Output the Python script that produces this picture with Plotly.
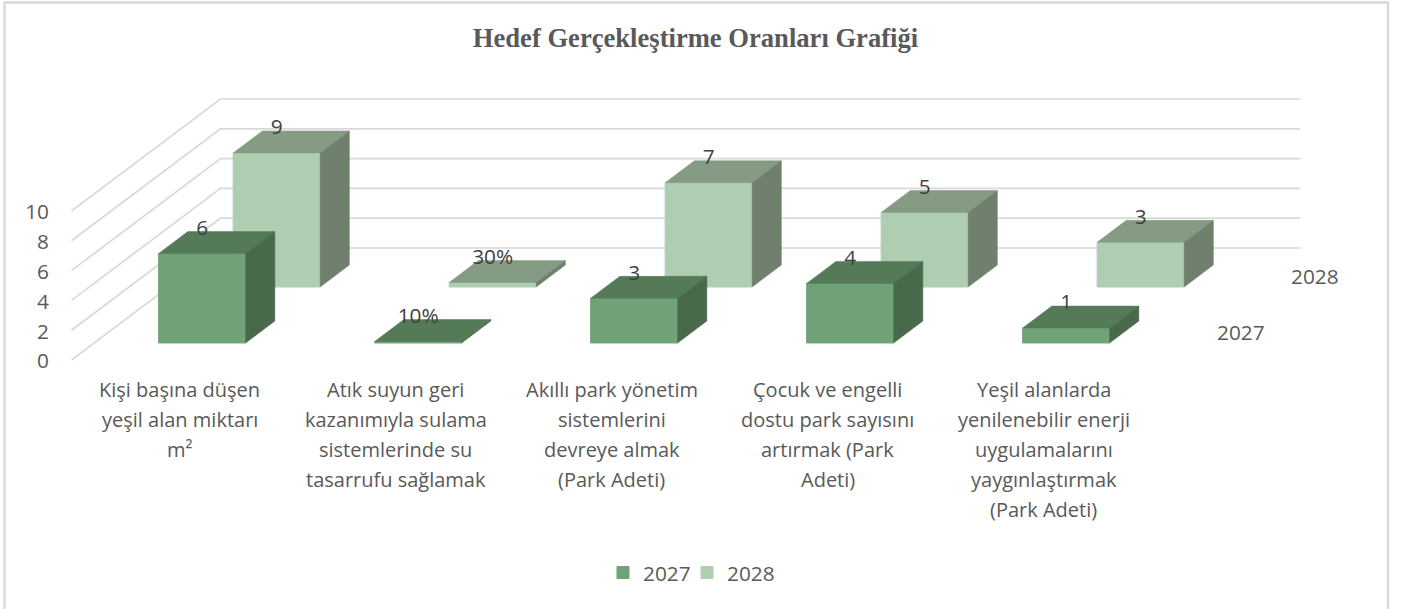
import plotly.graph_objects as go

# ---- data ----
series_names = ["2027", "2028"]
values_2027 = [6, 0.1, 3, 4, 1]
values_2028 = [9, 0.3, 7, 5, 3]
labels_2027 = ["6", "10%", "3", "4", "1"]
labels_2028 = ["9", "30%", "7", "5", "3"]
categories = [
    ["Kişi başına düşen", "yeşil alan miktarı", "m²"],
    ["Atık suyun geri", "kazanımıyla sulama", "sistemlerinde su", "tasarrufu sağlamak"],
    ["Akıllı park yönetim", "sistemlerini", "devreye almak", "(Park Adeti)"],
    ["Çocuk ve engelli", "dostu park sayısını", "artırmak (Park", "Adeti)"],
    ["Yeşil alanlarda", "yenilenebilir enerji", "uygulamalarını", "yaygınlaştırmak", "(Park Adeti)"],
]
y_ticks = [0, 2, 4, 6, 8, 10]
title_text = "Hedef Gerçekleştirme Oranları Grafiği"

# ---- layout geometry ----
W, H = 1405, 609
CAT_PX, VAL_PX = 216.0, 14.9        # pixels per category, per value unit
X0_PX, Y0_PX = 179.5, 360.0         # pixel of category 0 / value 0 on the front plane
LEFT_MARGIN = 50
DX = 149 / CAT_PX                   # oblique depth shift, in axis units
DY = 112 / VAL_PX
BAR_W = 87 / CAT_PX
BAR_D = 0.196
ROW_D = {"2027": 0.25, "2028": 0.75}
TEXT_FONT = "Open Sans"
FS_TEXT = 20
FS_NUM = 20.8
GREY = "#595959"
STYLE = {
    "2027": dict(front="#70a278", top="#557a58", side="#486a4a"),
    "2028": dict(front="#afcdb1", top="#859b84", side="#6f806d"),
}


def faces(i, v, d0):
    """Top and side polygons of one box, via the oblique projection."""
    x = i + DX * d0
    y = DY * d0
    ox, oy = DX * BAR_D, DY * BAR_D
    l, r = x - BAR_W / 2, x + BAR_W / 2
    top = ([l, r, r + ox, l + ox, l], [y + v, y + v, y + v + oy, y + v + oy, y + v])
    side = ([r, r + ox, r + ox, r, r], [y, y + oy, y + v + oy, y + v, y])
    return top, side


fig = go.Figure()

# gridlines: side wall + back wall
for t in y_ticks:
    fig.add_trace(go.Scatter(
        x=[-0.5, -0.5 + DX, len(categories) - 0.5 + DX],
        y=[t, t + DY, t + DY],
        mode="lines", line=dict(color="#d9d9d9", width=1.7),
        hoverinfo="skip", showlegend=False, zorder=0,
    ))

# boxes: back row first
values = {"2027": values_2027, "2028": values_2028}
text = {"2027": labels_2027, "2028": labels_2028}
z_base = {"2028": 1, "2027": 4}
for name in series_names:
    st = STYLE[name]
    d0 = ROW_D[name] - BAR_D / 2
    vals = values[name]
    xs = [i + DX * d0 for i in range(len(vals))]
    fig.add_trace(go.Bar(
        x=xs, y=vals, base=[DY * d0] * len(vals), width=BAR_W, name=name,
        marker=dict(color=st["front"], line=dict(color=st["front"], width=1)),
        hoverinfo="skip", zorder=z_base[name],
    ))
    for kind, idx in (("top", 0), ("side", 1)):
        px_, py_ = [], []
        for i, v in enumerate(vals):
            poly = faces(i, v, d0)[idx]
            px_ += poly[0] + [None]
            py_ += poly[1] + [None]
        fig.add_trace(go.Scatter(
            x=px_, y=py_, mode="lines", fill="toself", fillcolor=st[kind],
            line=dict(color=st[kind], width=0.5), hoverinfo="skip",
            showlegend=False, zorder=z_base[name] + 1,
        ))

# data labels
for name in series_names:
    d0 = ROW_D[name] - BAR_D / 2
    vals = values[name]
    fig.add_trace(go.Scatter(
        x=[i + DX * d0 for i in range(len(vals))],
        y=[DY * d0 + v + 1.6 for v in vals],
        mode="text", text=text[name], textposition="middle center",
        textfont=dict(family=TEXT_FONT, size=FS_NUM, color="#404040"),
        hoverinfo="skip", showlegend=False, zorder=8,
    ))

annotations = []
# category labels, one annotation per line to get the wide line spacing
for i, lines in enumerate(categories):
    for k, line in enumerate(lines):
        annotations.append(dict(
            x=i, y=-2 - 2 * k, xref="x", yref="y", text=line, showarrow=False,
            xanchor="center", yanchor="middle",
            font=dict(family=TEXT_FONT, size=FS_TEXT, color=GREY),
        ))
# depth-axis labels
for name in series_names:
    annotations.append(dict(
        x=4.74 + DX * ROW_D[name], y=DY * ROW_D[name], xref="x", yref="y",
        text=name, showarrow=False, xanchor="center", yanchor="middle",
        font=dict(family=TEXT_FONT, size=FS_NUM, color=GREY),
    ))

fig.update_layout(
    width=W, height=H, autosize=False,
    margin=dict(l=LEFT_MARGIN, r=0, t=0, b=0),
    paper_bgcolor="white", plot_bgcolor="white",
    barmode="overlay",
    title=dict(
        text=title_text, x=695.5 / W, y=1 - 38 / H, xanchor="center", yanchor="middle",
        xref="container", yref="container",
        font=dict(family="Liberation Serif", size=26.6, color=GREY, weight="bold"),
    ),
    xaxis=dict(
        range=[(LEFT_MARGIN - X0_PX) / CAT_PX, (W - X0_PX) / CAT_PX],
        visible=False, fixedrange=True,
    ),
    yaxis=dict(
        range=[(Y0_PX - H) / VAL_PX, Y0_PX / VAL_PX],
        tickmode="array", tickvals=[t - 0.08 for t in y_ticks], ticktext=[str(t) for t in y_ticks],
        showgrid=False, zeroline=False, showline=False, ticks="",
        tickfont=dict(family=TEXT_FONT, size=FS_NUM, color=GREY), fixedrange=True,
    ),
    legend=dict(
        orientation="h", x=(612 - LEFT_MARGIN) / (W - LEFT_MARGIN), y=1 - 573 / H,
        xanchor="left", yanchor="middle",
        font=dict(family=TEXT_FONT, size=FS_NUM, color=GREY),
        entrywidth=48, entrywidthmode="pixels", indentation=-9,
    ),
    annotations=annotations,
    shapes=[dict(
        type="rect", xref="paper", yref="paper",
        x0=(4.5 - LEFT_MARGIN) / (W - LEFT_MARGIN), x1=(1388 - LEFT_MARGIN) / (W - LEFT_MARGIN),
        y0=1 - 615 / H, y1=1 - 2.5 / H,
        line=dict(color="#d9d9d9", width=2.4), layer="below",
    )],
)

fig.write_html(
    "out.html",
    config={"displayModeBar": False},
    post_script="document.body.style.margin='0';document.body.style.overflow='hidden';",
)
